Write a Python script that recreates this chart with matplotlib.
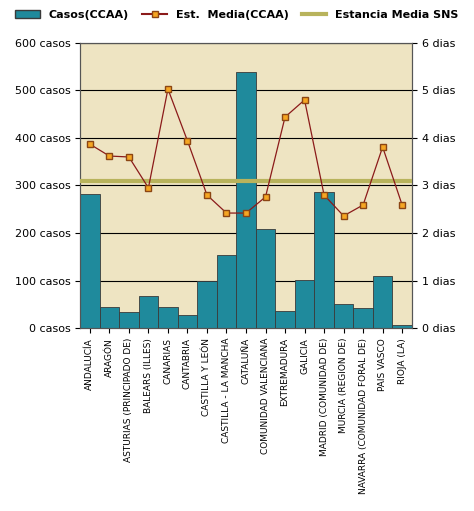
import matplotlib
matplotlib.use("Agg")
import matplotlib.pyplot as plt
from matplotlib.lines import Line2D
from matplotlib.patches import Patch

regions = ["ANDALUCÍA","ARAGÓN","ASTURIAS (PRINCIPADO DE)","BALEARS (ILLES)","CANARIAS","CANTABRIA",
           "CASTILLA Y LEÓN","CASTILLA - LA MANCHA","CATALUÑA","COMUNIDAD VALENCIANA","EXTREMADURA",
           "GALICIA","MADRID (COMUNIDAD DE)","MURCIA (REGION DE)","NAVARRA (COMUNIDAD FORAL DE)",
           "PAIS VASCO","RIOJA (LA)"]
casos = [282,44,34,67,44,27,99,154,539,208,36,101,286,50,42,109,6]
estancia = [3.87,3.62,3.6,2.95,5.03,3.94,2.8,2.42,2.42,2.76,4.44,4.8,2.8,2.36,2.59,3.81,2.59]
sns_media = 3.09

fig = plt.figure(figsize=(4.74,5.11), dpi=100)
ax = fig.add_axes([0.169,0.358,0.700,0.558])
ax.set_facecolor("#EEE4C2")
x = range(len(regions))
ax.bar(x, casos, width=1.0, color="#1F8A9C", edgecolor="#3A3A3A", linewidth=0.6, zorder=2)
ax.set_ylim(0,600); ax.set_xlim(-0.5,len(regions)-0.5)
ax.set_yticks(range(0,601,100))
ax.set_yticklabels([f"{v} casos" for v in range(0,601,100)], fontsize=8)
ax.yaxis.grid(True, color="black", linewidth=0.8, zorder=0)
ax.set_xticks(list(x))
ax.set_xticklabels(regions, rotation=90, fontsize=6.5)
ax2 = ax.twinx()
ax2.set_ylim(0,6)
ax2.set_yticks(range(0,7))
ax2.set_yticklabels([f"{v} dias" for v in range(0,7)], fontsize=8)
ax2.axhline(sns_media, color="#B8B35C", linewidth=3, zorder=3)
ax2.plot(list(x), estancia, color="#8B1A1A", linewidth=0.9, marker="s", markersize=5,
         markerfacecolor="#F5A623", markeredgecolor="#8B4513", zorder=4)
for a in (ax, ax2):
    for s in a.spines.values():
        s.set_color("#555555")
handles = [Patch(facecolor="#1F8A9C", edgecolor="#3A3A3A"),
           Line2D([0],[0],color="#8B1A1A",marker="s",markerfacecolor="#F5A623",markeredgecolor="#8B4513",markersize=5),
           Line2D([0],[0],color="#B8B35C",linewidth=3)]
fig.legend(handles, ["Casos(CCAA)","Est.  Media(CCAA)","Estancia Media SNS"], loc="upper center",
           bbox_to_anchor=(0.5,1.0), ncol=3, frameon=False, prop={"size":8,"weight":"bold"},
           handlelength=2.2, columnspacing=1.2)
fig.savefig("out.png", dpi=100)
